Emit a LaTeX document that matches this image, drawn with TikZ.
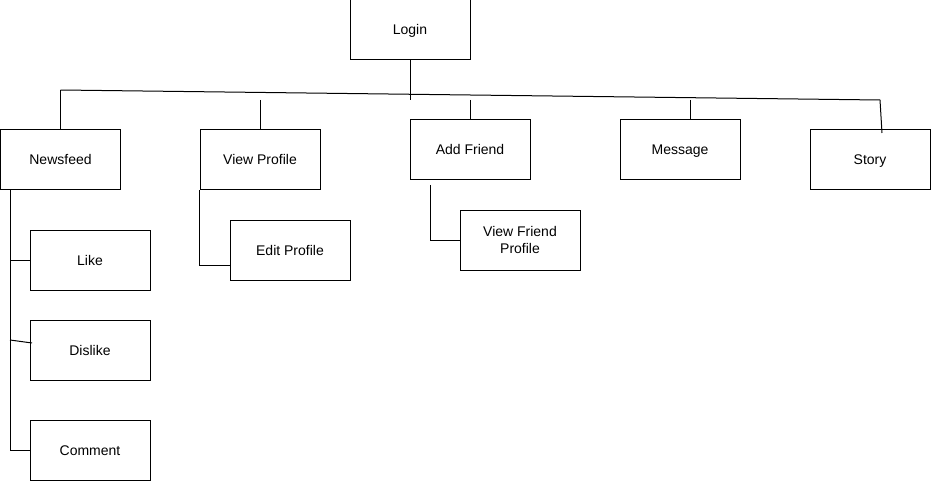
\documentclass[tikz,border=0pt]{standalone}
\usepackage{fontspec}
\setmainfont{Liberation Sans}
\begin{document}
\begin{tikzpicture}[x=1pt,y=-1pt,line width=1pt,
  box/.style={draw,rectangle,minimum width=120pt,minimum height=60pt,inner sep=0pt,
    font=\fontsize{14pt}{17pt}\selectfont,align=center},
  onebox/.style={box,text height=10pt,text depth=0pt},
  conn/.style={draw,line width=1pt}]
\useasboundingbox (0,0) rectangle (931,481);
\node[onebox] (login) at (410,30) {Login};
\node[onebox] (news) at (60.5,160) {Newsfeed};
\node[onebox] (vp) at (260,160) {View Profile};
\node[onebox] (af) at (470,150) {Add Friend};
\node[onebox] (msg) at (680,150) {Message};
\node[onebox] (story) at (870,160) {Story};
\node[onebox] (like) at (90,260) {Like};
\node[onebox] (dislike) at (90,350) {Dislike};
\node[onebox] (comment) at (90,450) {Comment};
\node[onebox] (ep) at (290,250) {Edit Profile};
\node[box] (vfp) at (520,240) {View Friend\\Profile};
% coordinates of free ends
\coordinate (hl) at (60.5,90);
\coordinate (hr) at (880,100);
\coordinate (lg) at (410,100);
\coordinate (vpt) at (260,100);
\coordinate (aft) at (470,100);
\coordinate (msgt) at (690,100);
\coordinate (st) at (882,133);
\coordinate (nfb) at (10,190);
\coordinate (nfe) at (10,450);
\coordinate (afb) at (430,185);
% connectors
\draw[conn] (login.south) -- (lg);
\draw[conn] (hl) -- (hr);
\draw[conn] (hl) -- (news.north);
\draw[conn] (vpt) -- (vp.north);
\draw[conn] (aft) -- (af.north);
\draw[conn] (msgt) -- (msgt |- msg.north);
\draw[conn] (hr) -- (st);
\draw[conn] (nfb) -- (nfe) -- (comment.west);
\draw[conn] (10,260) -- (like.west);
\draw[conn] (10,340) -- (32,343);
\draw[conn] (vp.south west) |- (ep.west |- 0,265);
\draw[conn] (afb) |- (vfp.west);
\end{tikzpicture}
\end{document}
